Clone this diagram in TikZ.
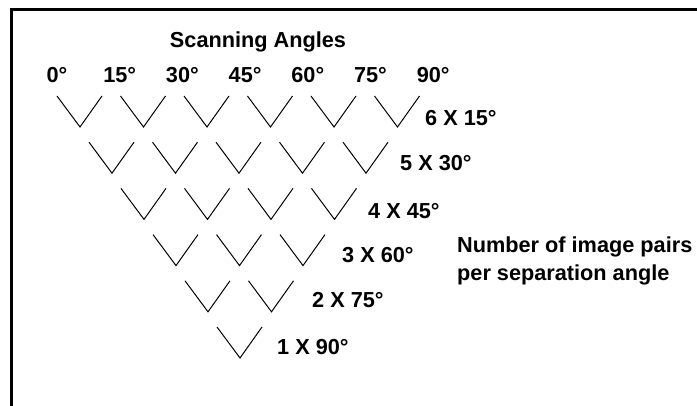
\documentclass[tikz,border=0pt]{standalone}
\usepackage{fontspec}
\setmainfont{Liberation Sans}
\usetikzlibrary{positioning, calc}

\begin{document}
\begin{tikzpicture}[
    x=1pt, y=-1pt,
    lbl/.style={font=\fontsize{21.7}{28}\selectfont\bfseries, inner sep=0pt},
    vee/.style={line width=1pt},
    frame/.style={line width=2.2pt}
]
\useasboundingbox (0,0) rectangle (697,406);

% frame, only top and left edges show
\coordinate (tl) at (11.5,9.5);
\coordinate (tr) at (697,9.5);
\coordinate (bl) at (11.5,406);
\draw[frame] (tr) -- (tl) -- (bl);

\node[lbl] (title) at (258,42) {Scanning Angles};

% angle labels along the top
\foreach \a [count=\i from 0] in {0,15,30,45,60,75,90}
  \node[lbl] (ang\i) at (57+62.7*\i,75) {\a°};

% the vees, one row less each time
\foreach \r in {0,...,5}{
  \pgfmathtruncatemacro{\last}{5-\r}
  \foreach \i in {0,...,\last}{
    \coordinate (b\r\i) at (80+32*\r+63.5*\i, 127+46.2*\r);
    \draw[vee] ($(b\r\i)+(-23,-31)$) -- (b\r\i) -- ($(b\r\i)+(22,-31)$);
  }
}

% pairs per row
\node[lbl, anchor=west] (n15) at (425,118) {6 X 15°};
\node[lbl, anchor=west] (n30) at (400,163) {5 X 30°};
\node[lbl, anchor=west] (n45) at (368,211) {4 X 45°};
\node[lbl, anchor=west] (n60) at (342,255) {3 X 60°};
\node[lbl, anchor=west] (n75) at (312,300) {2 X 75°};
\node[lbl, anchor=west] (n90) at (277,347) {1 X 90°};

\node[lbl, anchor=west, align=left] (note) at (457,261) {Number of image pairs\\per separation angle};

\end{tikzpicture}
\end{document}
